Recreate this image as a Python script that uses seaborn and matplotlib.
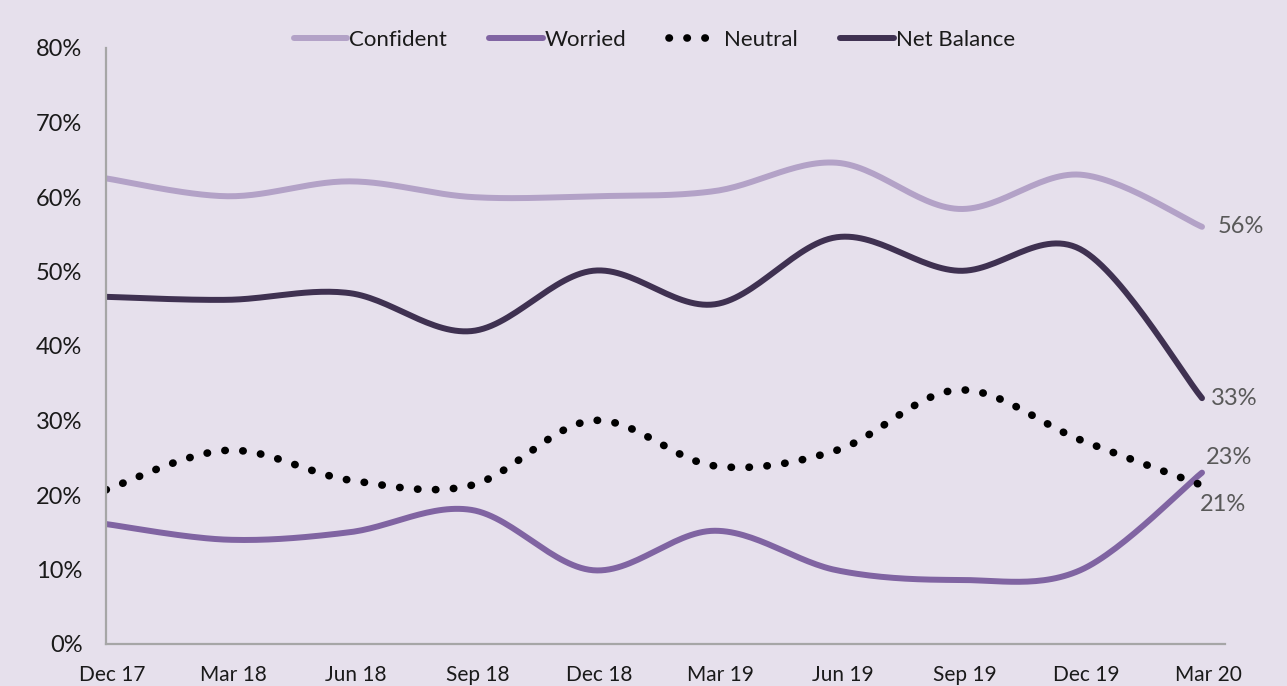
import numpy as np
import pandas as pd
import matplotlib
matplotlib.use("Agg")
import matplotlib.pyplot as plt
import matplotlib.transforms as mtrans
import seaborn as sns

quarters = ["Dec 17", "Mar 18", "Jun 18", "Sep 18", "Dec 18",
            "Mar 19", "Jun 19", "Sep 19", "Dec 19", "Mar 20"]
confident = [62.5, 60.1, 62.1, 60.0, 60.1, 60.8, 64.6, 58.4, 63.0, 56.0]
worried = [16.1, 14.0, 15.0, 18.0, 9.9, 15.2, 9.9, 8.6, 9.9, 23.0]
neutral = [20.7, 26.0, 22.0, 21.3, 30.0, 23.9, 26.0, 34.1, 27.4, 21.3]
net_balance = [46.6, 46.2, 47.1, 42.0, 50.1, 45.6, 54.6, 50.1, 53.0, 33.0]

bg = "#E6E0EC"
sns.set_theme(style="white", rc={"axes.facecolor": bg, "figure.facecolor": bg})
plt.rcParams["font.family"] = ["Lato", "DejaVu Sans"]


def smooth(y, n=30):
    # Excel-style smoothed line: Catmull-Rom through the points
    y = np.asarray(y, dtype=float)
    x = np.arange(len(y), dtype=float)
    p = np.column_stack([x, y])
    p = np.vstack([p[0], p, p[-1]])
    out = []
    t = np.linspace(0, 1, n, endpoint=False)[:, None]
    for i in range(1, len(p) - 2):
        p0, p1, p2, p3 = p[i - 1], p[i], p[i + 1], p[i + 2]
        c1 = p1 + (p2 - p0) / 6
        c2 = p2 - (p3 - p1) / 6
        seg = ((1 - t) ** 3) * p1 + 3 * ((1 - t) ** 2) * t * c1 + 3 * (1 - t) * t ** 2 * c2 + t ** 3 * p2
        out.append(seg)
    out.append(p[-2][None, :])
    out = np.vstack(out)
    return out[:, 0], out[:, 1]


fig = plt.figure(figsize=(12.87, 6.86), dpi=100)
ax = fig.add_axes([106 / 1287, 42 / 686, 1119 / 1287, 596 / 686])

series = [
    ("Confident", confident, "#B3A2C7", "-"),
    ("Worried", worried, "#8064A2", "-"),
    ("Neutral", neutral, "black", (0, (0.05, 2.3))),
    ("Net Balance", net_balance, "#3F3151", "-"),
]

for name, vals, col, ls in series:
    xs, ys = smooth(vals)
    df = pd.DataFrame({"x": xs, "y": ys})
    sns.lineplot(data=df, x="x", y="y", ax=ax, color=col, sort=False,
                 linewidth=5.5 if name == "Neutral" else 4.3,
                 linestyle=ls, dash_capstyle="round", solid_capstyle="round",
                 label=name)

ax.set_xlim(0, 9 + 23 / 121.8)
ax.set_ylim(0, 80)
ax.set_xticks(range(len(quarters)))
ax.set_xticklabels(quarters, fontsize=15, color="#1a1a1a")
ax.set_yticks(range(0, 81, 10))
ax.set_yticklabels([f"{v}%" for v in range(0, 81, 10)], fontsize=17, color="#1a1a1a")
ax.set_xlabel("")
ax.set_ylabel("")
ax.tick_params(axis="y", length=0, pad=17)
ax.tick_params(axis="x", length=0, pad=15)
shift = mtrans.ScaledTranslation(6 / 100, 0, fig.dpi_scale_trans)
for lbl in ax.get_xticklabels():
    lbl.set_transform(lbl.get_transform() + shift)
for s in ["top", "right"]:
    ax.spines[s].set_visible(False)
for s in ["left", "bottom"]:
    ax.spines[s].set_color("#A6A6A6")
    ax.spines[s].set_linewidth(1.6)

# end labels
lab_col = "#595959"
ax.annotate(f"{confident[-1]:.0f}%", (9, confident[-1]), xytext=(11, 0), textcoords="offset points",
            va="center", ha="left", fontsize=17, color=lab_col)
ax.annotate(f"{net_balance[-1]:.0f}%", (9, net_balance[-1]), xytext=(6.5, 0), textcoords="offset points",
            va="center", ha="left", fontsize=17, color=lab_col)
ax.annotate(f"{worried[-1]:.0f}%", (9, worried[-1]), xytext=(3, 11), textcoords="offset points",
            va="center", ha="left", fontsize=17, color=lab_col)
ax.annotate(f"{neutral[-1]:.0f}%", (9, neutral[-1]), xytext=(-1.5, -14), textcoords="offset points",
            va="center", ha="left", fontsize=17, color=lab_col)

leg = ax.legend(loc="center", bbox_to_anchor=(0.49, 1.013), ncol=4, frameon=False,
                handlelength=2.4, columnspacing=1.9, handletextpad=0.1,
                prop={"size": 16})
for t in leg.get_texts():
    t.set_color("#1a1a1a")

fig.savefig("out.png", dpi=100, facecolor=bg)
